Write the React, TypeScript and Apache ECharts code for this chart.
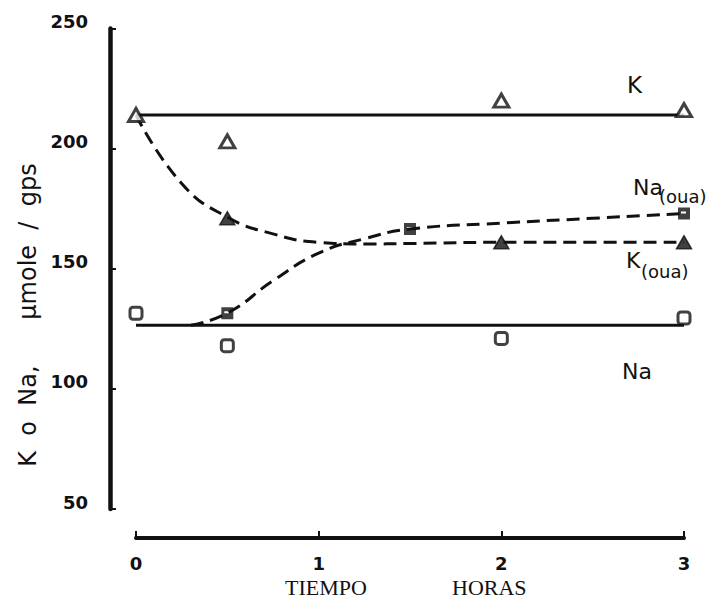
import React, { useEffect, useRef } from "react";
import * as echarts from "echarts";

// Measured points (time in hours, value in µmole / gps)
const kHours = [0, 0.5, 2, 3];
const kValues = [214, 203, 220, 216];
const kOuaHours = [0.5, 2, 3];
const kOuaValues = [171, 161, 161];
const naHours = [0, 0.5, 2, 3];
const naValues = [131.5, 118, 121, 129.5];
const naOuaHours = [0.5, 1.5, 3];
const naOuaValues = [131.5, 166.5, 173];

// Fitted lines
const kLevel = 214;
const naLevel = 126.5;
const kOuaCurveHours = [0, 0.25, 0.5, 0.75, 1.0, 1.25, 1.5, 2, 2.5, 3];
const kOuaCurveValues = [214, 185.5, 171.5, 164.5, 161, 160.3, 160.5, 161, 161, 161];
const naOuaCurveHours = [0.3, 0.5, 0.75, 1.0, 1.25, 1.5, 2, 2.5, 3];
const naOuaCurveValues = [126.5, 131.5, 145, 156.5, 162.5, 166.5, 169, 171, 173];

const xTicks = [0, 1, 2, 3];
const yTicks = [50, 100, 150, 200, 250];

const zip = (xs: number[], ys: number[]) => xs.map((x, i) => [x, ys[i]]);

const INK = "#111";

export default function App() {
  const ref = useRef<HTMLDivElement>(null);
  useEffect(() => {
    if (!ref.current) return;
    const chart = echarts.init(ref.current, undefined, { renderer: "svg" });
    const sans = "DejaVu Sans";
    const option: any = {
      animation: false,
      backgroundColor: "#fff",
      grid: { left: 136, right: 33, top: 28.5, bottom: 96 },
      xAxis: {
        type: "value",
        min: xTicks[0],
        max: xTicks[xTicks.length - 1],
        interval: 1,
        offset: 29,
        axisLine: { show: true, onZero: false, lineStyle: { color: INK, width: 4 } },
        axisTick: { show: true, inside: true, length: 7, lineStyle: { color: INK, width: 2 } },
        axisLabel: { color: INK, fontFamily: sans, fontWeight: "bold", fontSize: 18, margin: 16 },
        splitLine: { show: false },
      },
      yAxis: {
        type: "value",
        min: yTicks[0],
        max: yTicks[yTicks.length - 1],
        interval: 50,
        offset: 26,
        axisLine: { show: true, onZero: false, lineStyle: { color: INK, width: 4.5 } },
        axisTick: { show: true, inside: true, length: 6, lineStyle: { color: INK, width: 2 } },
        axisLabel: {
          color: INK,
          fontFamily: sans,
          fontWeight: "bold",
          fontSize: 18,
          margin: 22,
          verticalAlign: "bottom",
          lineHeight: 14,
        },
        splitLine: { show: false },
      },
      series: [
        {
          type: "line",
          data: [[0, kLevel], [3, kLevel]],
          showSymbol: false,
          lineStyle: { color: INK, width: 3 },
          z: 2,
        },
        {
          type: "line",
          data: [[0, naLevel], [3, naLevel]],
          showSymbol: false,
          lineStyle: { color: INK, width: 3 },
          z: 2,
        },
        {
          type: "line",
          data: zip(kOuaCurveHours, kOuaCurveValues),
          showSymbol: false,
          smooth: true,
          lineStyle: { color: INK, width: 3, type: [13, 7] },
          z: 2,
        },
        {
          type: "line",
          data: zip(naOuaCurveHours, naOuaCurveValues),
          showSymbol: false,
          smooth: true,
          lineStyle: { color: INK, width: 3, type: [13, 7] },
          z: 2,
        },
        {
          type: "scatter",
          data: zip(kHours, kValues),
          symbol: "triangle",
          symbolSize: [15, 13],
          itemStyle: { color: "#fff", borderColor: INK, borderWidth: 3 },
          z: 5,
        },
        {
          type: "scatter",
          data: zip(kOuaHours, kOuaValues),
          symbol: "triangle",
          symbolSize: [15, 13],
          itemStyle: { color: INK, borderColor: INK, borderWidth: 1.5 },
          z: 5,
        },
        {
          type: "scatter",
          data: zip(naHours, naValues),
          symbol: "roundRect",
          symbolSize: 12,
          itemStyle: { color: "#fff", borderColor: INK, borderWidth: 3 },
          z: 5,
        },
        {
          type: "scatter",
          data: zip(naOuaHours, naOuaValues),
          symbol: "path://M0,0H12V12H0Z M3,4V6H8V4Z",
          symbolSize: 12,
          itemStyle: { color: INK },
          z: 5,
        },
      ],
      graphic: [
        {
          type: "text",
          x: 28,
          y: 315,
          rotation: Math.PI / 2,
          style: {
            text: "K  o  Na,      µmole  /  gps",
            fontFamily: sans,
            fontSize: 24,
            fill: INK,
            align: "center",
            verticalAlign: "middle",
          },
        },
        { type: "text", left: 627, top: 73, style: { text: "K", fontFamily: sans, fontSize: 23, fill: INK } },
        { type: "text", left: 633, top: 176, style: { text: "Na", fontFamily: sans, fontSize: 22, fill: INK } },
        { type: "text", left: 659, top: 187, style: { text: "(oua)", fontFamily: sans, fontSize: 18, fill: INK } },
        { type: "text", left: 626, top: 249, style: { text: "K", fontFamily: sans, fontSize: 22, fill: INK } },
        { type: "text", left: 641, top: 262, style: { text: "(oua)", fontFamily: sans, fontSize: 18, fill: INK } },
        { type: "text", left: 622, top: 360, style: { text: "Na", fontFamily: sans, fontSize: 22, fill: INK } },
        { type: "text", left: 285, top: 576, style: { text: "TIEMPO", fontFamily: "Liberation Serif", fontSize: 22, fill: INK } },
        { type: "text", left: 452, top: 576, style: { text: "HORAS", fontFamily: "Liberation Serif", fontSize: 22, fill: INK } },
      ],
    };
    chart.setOption(option);
    return () => chart.dispose();
  }, []);
  return (
    <div
      ref={ref}
      style={{ position: "fixed", left: 0, top: 0, width: 717, height: 605, background: "#fff" }}
    />
  );
}
